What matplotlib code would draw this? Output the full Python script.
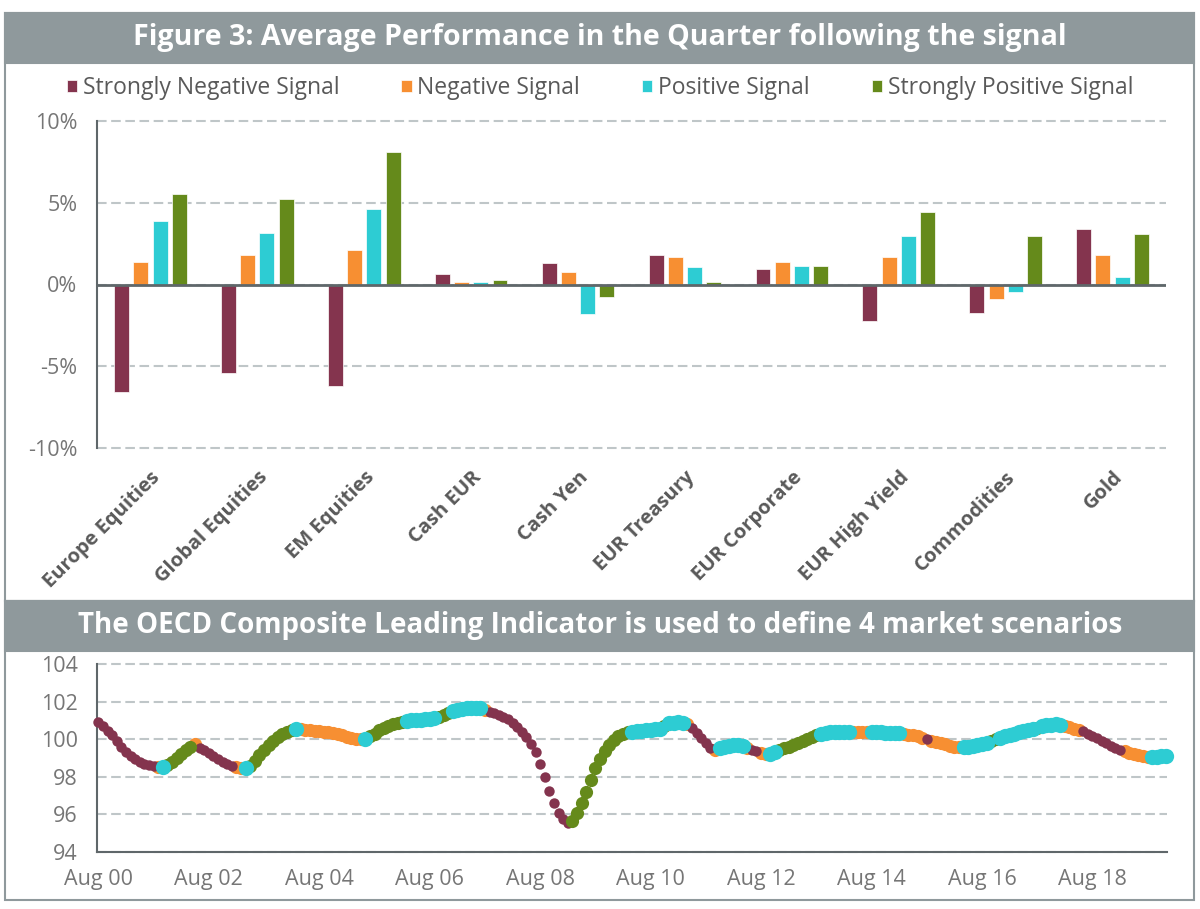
import matplotlib

matplotlib.use("Agg")
import matplotlib.pyplot as plt  # noqa: E402
import numpy as np  # noqa: E402
from matplotlib.patches import Rectangle  # noqa: E402
from matplotlib.ticker import FuncFormatter  # noqa: E402

plt.rcParams["font.family"] = ["Open Sans", "DejaVu Sans"]

# --- 上段: シグナル別の四半期平均パフォーマンス (%)
ASSETS = ["Europe Equities", "Global Equities", "EM Equities", "Cash EUR", "Cash Yen",
          "EUR Treasury", "EUR Corporate", "EUR High Yield", "Commodities", "Gold"]
SIGNALS = ["Strongly Negative Signal", "Negative Signal", "Positive Signal",
           "Strongly Positive Signal"]
STRONG_NEG = [-6.6, -5.43, -6.22, 0.63, 1.29, 1.8, 0.92, -2.24, -1.76, 3.39]
NEG = [1.35, 1.82, 2.1, 0.18, 0.76, 1.71, 1.35, 1.71, -0.88, 1.82]
POS = [3.9, 3.18, 4.63, 0.16, -1.82, 1.06, 1.14, 2.94, -0.47, 0.43]
STRONG_POS = [5.55, 5.2, 8.1, 0.27, -0.78, 0.18, 1.14, 4.41, 2.94, 3.08]

# --- 下段: OECD CLI 月次 (Aug 2000 -> Dec 2019)
CLI = [
    100.9, 100.7, 100.45, 100.2, 99.9, 99.6, 99.3, 99.1, 98.95, 98.8, 98.7, 98.62,
    98.57, 98.52, 98.5, 98.62, 98.8, 99.0, 99.2, 99.4, 99.6, 99.72, 99.55, 99.4,
    99.25, 99.1, 98.95, 98.8, 98.68, 98.58, 98.5, 98.47, 98.46, 98.6, 98.85, 99.15,
    99.45, 99.7, 99.92, 100.1, 100.27, 100.4, 100.5, 100.55, 100.52, 100.5, 100.48, 100.45,
    100.42, 100.4, 100.36, 100.32, 100.27, 100.2, 100.14, 100.08, 100.02, 100.0, 100.02, 100.15,
    100.3, 100.48, 100.62, 100.72, 100.8, 100.87, 100.94, 100.98, 101.0, 101.02, 101.03, 101.05,
    101.08, 101.12, 101.2, 101.3, 101.4, 101.5, 101.57, 101.62, 101.65, 101.67, 101.67, 101.65,
    101.55, 101.45, 101.38, 101.3, 101.2, 101.05, 100.88, 100.65, 100.4, 100.12, 99.75, 99.3,
    98.7, 98.0, 97.25, 96.6, 96.1, 95.75, 95.55, 95.65, 96.05, 96.6, 97.2, 97.85,
    98.45, 98.95, 99.35, 99.7, 99.95, 100.15, 100.3, 100.4, 100.4, 100.42, 100.45, 100.48,
    100.5, 100.53, 100.56, 100.7, 100.85, 100.88, 100.9, 100.88, 100.8, 100.6, 100.35, 100.05,
    99.78, 99.55, 99.45, 99.52, 99.6, 99.66, 99.7, 99.7, 99.65, 99.55, 99.43, 99.35,
    99.25, 99.2, 99.22, 99.3, 99.42, 99.52, 99.6, 99.7, 99.8, 99.9, 100.0, 100.1,
    100.2, 100.28, 100.32, 100.36, 100.38, 100.4, 100.4, 100.4, 100.4, 100.38, 100.37, 100.36,
    100.36, 100.36, 100.36, 100.35, 100.35, 100.34, 100.32, 100.28, 100.24, 100.2, 100.15, 100.08,
    100.0, 99.9, 99.84, 99.78, 99.72, 99.66, 99.6, 99.58, 99.58, 99.6, 99.64, 99.68,
    99.74, 99.8, 99.9, 100.0, 100.08, 100.15, 100.22, 100.3, 100.37, 100.44, 100.5, 100.56,
    100.62, 100.68, 100.74, 100.78, 100.8, 100.78, 100.72, 100.64, 100.56, 100.5, 100.42, 100.3,
    100.18, 100.05, 99.92, 99.8, 99.66, 99.53, 99.43, 99.35, 99.28, 99.2, 99.14, 99.08,
    99.04, 99.05, 99.06, 99.08, 99.1,
]
# 各月のシグナル (連続区間: コード, 月数)
CLI_RUNS = [
    ("SN", 13), ("N", 1), ("P", 1), ("SP", 6), ("N", 1), ("SN", 8), ("N", 2), ("P", 1),
    ("SP", 10), ("P", 1), ("N", 14), ("P", 1), ("SP", 8), ("P", 7), ("SP", 3), ("P", 7),
    ("N", 1), ("SN", 18), ("SP", 13), ("P", 7), ("SP", 1), ("P", 4), ("N", 1), ("SN", 5),
    ("N", 1), ("P", 6), ("N", 1), ("SN", 2), ("N", 2), ("P", 2), ("SP", 9), ("P", 7),
    ("N", 4), ("P", 7), ("N", 5), ("SN", 1), ("N", 7), ("P", 6), ("SP", 2), ("P", 8),
    ("SP", 1), ("P", 5), ("N", 4), ("SN", 9), ("N", 6), ("P", 4),
]
X_TICK_LABELS = ["Aug 00", "Aug 02", "Aug 04", "Aug 06", "Aug 08",
                 "Aug 10", "Aug 12", "Aug 14", "Aug 16", "Aug 18"]

COLORS = {"SN": "#84344E", "N": "#F78F32", "P": "#2DCCD3", "SP": "#658A1B"}
MARKER_SIZE = {"SN": 7.5, "N": 9.5, "SP": 9.5, "P": 11.0}
BAR_GRAY = "#8F999C"
GRID = "#BFC6C8"
AXIS = "#5F676A"
TICK_TXT = "#767676"
LABEL_TXT = "#595959"

W, H = 1200, 909
fig = plt.figure(figsize=(W / 100, H / 100), dpi=100)


def fx(px):
    return px / W


def fy(py):
    return 1 - py / H


def panel(top, bottom, title, fontsize):
    # 枠線 + 灰色のタイトル帯
    fig.add_artist(Rectangle((fx(5), fy(bottom)), fx(1189), (bottom - top) / H,
                             transform=fig.transFigure, facecolor="none",
                             edgecolor=BAR_GRAY, linewidth=1.5, zorder=5))
    fig.add_artist(Rectangle((fx(5), fy(top + 50)), fx(1189), 50 / H,
                             transform=fig.transFigure, facecolor=BAR_GRAY,
                             edgecolor=BAR_GRAY, linewidth=1.5, zorder=5))
    fig.text(0.5, fy(top + 25), title, ha="center", va="center", color="white",
             fontsize=fontsize, fontweight="bold", zorder=6)


panel(13, 601, "Figure 3: Average Performance in the Quarter following the signal", 20.6)
panel(601, 900, "The OECD Composite Leading Indicator is used to define 4 market scenarios", 20)

dash = (0, (4.6, 2.2))

# ---- 上段の棒グラフ
ax = fig.add_axes([fx(97), fy(448), fx(1166 - 97), (448 - 121) / H])
x = np.arange(len(ASSETS))
pitch, width = 0.18, 0.14
handles = []
for k, (vals, code) in enumerate(zip([STRONG_NEG, NEG, POS, STRONG_POS],
                                     ["SN", "N", "P", "SP"])):
    b = ax.bar(x + (k - 1.5) * pitch, vals, width, color=COLORS[code],
               edgecolor="white", linewidth=0.5, label=SIGNALS[k], zorder=3)
    handles.append(b)
ax.set_xlim(-0.5, len(ASSETS) - 0.5)
ax.set_ylim(-10, 10)
ax.set_yticks([-10, -5, 0, 5, 10])
ax.yaxis.set_major_formatter(FuncFormatter(lambda v, _: f"{v:.0f}%"))
ax.tick_params(axis="y", length=0, pad=14, labelsize=15.5, labelcolor=TICK_TXT)
ax.set_xticks(x)
ax.set_xticklabels(ASSETS, rotation=45, ha="right", rotation_mode="anchor",
                   fontsize=14.5, fontweight="bold", color=LABEL_TXT)
ax.tick_params(axis="x", length=0, pad=14)
ax.grid(axis="y", color=GRID, linewidth=1.5, linestyle=dash)
for gl in ax.get_ygridlines():
    gl.set_clip_on(False)
ax.set_axisbelow(True)
ax.axhline(0, color=AXIS, linewidth=2, zorder=4)
for side in ("top", "right", "bottom"):
    ax.spines[side].set_visible(False)
ax.spines["left"].set_color(AXIS)
ax.spines["left"].set_linewidth(1.5)

fig.legend(handles=handles, labels=SIGNALS, loc="center", bbox_to_anchor=(0.5, fy(88)),
           ncol=4, frameon=False, fontsize=16.5, handlelength=0.45, handleheight=0.45,
           handletextpad=0.25, columnspacing=2.7, labelcolor=LABEL_TXT)

# ---- 下段の CLI 散布
ax2 = fig.add_axes([fx(97), fy(852), fx(1167 - 97), (852 - 664) / H])
codes = [c for c, n in CLI_RUNS for _ in range(n)]
months = np.arange(len(CLI))
cli = np.array(CLI)
for code in ["N", "SN", "SP", "P"]:
    mask = np.array([c == code for c in codes])
    ax2.plot(months[mask], cli[mask], linestyle="none", marker="o",
             markersize=MARKER_SIZE[code], markeredgewidth=0,
             color=COLORS[code], clip_on=False, zorder=3)
ax2.set_xlim(-0.3, len(CLI) - 0.8)
ax2.set_ylim(94, 104)
ax2.set_yticks(range(94, 105, 2))
ax2.tick_params(axis="y", length=0, pad=14, labelsize=15.5, labelcolor=TICK_TXT)
ax2.set_xticks(months[::24][:len(X_TICK_LABELS)])
ax2.set_xticklabels(X_TICK_LABELS)
ax2.tick_params(axis="x", length=0, pad=12, labelsize=15.5, labelcolor=TICK_TXT)
ax2.grid(axis="y", color=GRID, linewidth=1.5, linestyle=dash)
for gl in ax2.get_ygridlines():
    gl.set_clip_on(False)
ax2.set_axisbelow(True)
for side in ("top", "right"):
    ax2.spines[side].set_visible(False)
for side in ("left", "bottom"):
    ax2.spines[side].set_color(AXIS)
    ax2.spines[side].set_linewidth(1.5)

fig.savefig("out.png", dpi=100, facecolor="white")
